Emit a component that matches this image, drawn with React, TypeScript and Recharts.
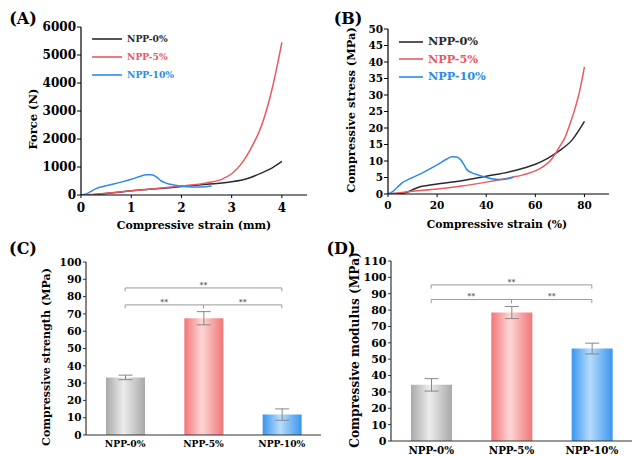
import React from "react";
import {
  Bar,
  BarChart,
  Cell,
  ErrorBar,
  Legend,
  Line,
  LineChart,
  ReferenceLine,
  XAxis,
  YAxis,
} from "recharts";

const FONT = "'DejaVu Serif', 'Liberation Serif', serif";

// (A) force vs compressive strain (mm)
const strainA0 = [0.2, 0.5, 0.8, 1.0, 1.5, 2.0, 2.5, 3.0, 3.3, 3.6, 3.8, 4.0];
const forceA0 = [0, 50, 110, 150, 220, 300, 380, 470, 580, 790, 960, 1200];
const strainA5 = [0.1, 0.5, 1.0, 1.5, 2.0, 2.5, 2.8, 3.0, 3.2, 3.4, 3.6, 3.8, 4.0];
const forceA5 = [0, 60, 150, 230, 320, 430, 560, 760, 1130, 1720, 2500, 3750, 5450];
const strainA10 = [0, 0.1, 0.2, 0.3, 0.5, 0.8, 1.0, 1.2, 1.3, 1.4, 1.5, 1.6, 1.7, 1.85, 2.0, 2.2, 2.4, 2.6];
const forceA10 = [0, 40, 130, 230, 330, 460, 560, 680, 720, 720, 650, 500, 420, 360, 310, 290, 290, 320];

// (B) compressive stress vs strain (%)
const strainB0 = [3, 8, 10, 13, 16, 20, 30, 40, 50, 55, 60, 65, 70, 75, 80];
const stressB0 = [0, 0.6, 1.3, 2.2, 2.6, 3.0, 4.0, 5.4, 6.8, 7.8, 9.0, 10.8, 13.2, 16.4, 22];
const strainB5 = [0, 5, 10, 20, 30, 40, 50, 55, 60, 63, 66, 68, 70, 72, 74, 76, 78, 80];
const stressB5 = [0, 0.4, 0.8, 1.5, 2.4, 3.6, 5.0, 5.8, 7.0, 8.2, 10, 12, 14.5, 17, 21, 25.5, 31, 38.5];
const strainB10 = [0, 2, 4, 6, 8, 10, 15, 20, 24, 26, 28, 30, 31, 32, 34, 37, 40, 45, 48, 51];
const stressB10 = [0, 0.8, 2.2, 3.5, 4.3, 5.0, 6.8, 8.8, 10.6, 11.3, 11.2, 10.0, 8.8, 7.5, 6.5, 5.7, 5.0, 4.4, 4.5, 5.1];

// (C), (D) bars
const groups = ["NPP-0%", "NPP-5%", "NPP-10%"];
const strengthC = [33.3, 67.5, 11.8];
const strengthErrC = [1.3, 3.8, 3.3];
const modulusD = [34.3, 78.5, 56.5];
const modulusErrD = [3.8, 3.7, 3.3];

// ticks
const ticksAx = [0, 1, 2, 3, 4];
const minorAx = [0.5, 1.5, 2.5, 3.5];
const ticksAy = [0, 1000, 2000, 3000, 4000, 5000, 6000];
const minorAy = [500, 1500, 2500, 3500, 4500, 5500];
const ticksBx = [0, 20, 40, 60, 80];
const minorBx = [10, 30, 50, 70];
const ticksBy = [0, 5, 10, 15, 20, 25, 30, 35, 40, 45, 50];
const minorBy = [2.5, 7.5, 12.5, 17.5, 22.5, 27.5, 32.5, 37.5, 42.5, 47.5];
const ticksCy = [0, 10, 20, 30, 40, 50, 60, 70, 80, 90, 100];
const minorCy = [5, 15, 25, 35, 45, 55, 65, 75, 85, 95];
const ticksDy = [0, 10, 20, 30, 40, 50, 60, 70, 80, 90, 100, 110];
const minorDy = [5, 15, 25, 35, 45, 55, 65, 75, 85, 95, 105];

// significance brackets
const bracketsC = [
  { from: "NPP-0%", to: "NPP-10%", y: 85 },
  { from: "NPP-0%", to: "NPP-5%", y: 75.2 },
  { from: "NPP-5%", to: "NPP-10%", y: 75.2 },
];
const bracketsD = [
  { from: "NPP-0%", to: "NPP-10%", y: 95.4 },
  { from: "NPP-0%", to: "NPP-5%", y: 86.5 },
  { from: "NPP-5%", to: "NPP-10%", y: 86.5 },
];

const BLACK = "#2b2b2b";
const RED = "#e85a5f";
const BLUE = "#2a8ce8";

const toRows = (xs: number[], ys: number[]) => xs.map((x, i) => ({ x, y: ys[i] }));
const barRows = (vals: number[], errs: number[]) =>
  groups.map((name, i) => ({ name, value: vals[i], err: errs[i] }));

const tickStyle = (size: number) => ({
  fill: "#000",
  fontSize: size,
  fontWeight: 700,
  fontFamily: FONT,
});

function Title({ x, y, size, rotate, children }: any) {
  return (
    <div
      style={{
        position: "absolute",
        left: x,
        top: y,
        transform: `translate(-50%, -50%)${rotate ? " rotate(-90deg)" : ""}`,
        fontSize: size,
        fontWeight: 700,
        fontFamily: FONT,
        whiteSpace: "nowrap",
        lineHeight: 1,
        color: "#000",
      }}
    >
      {children}
    </div>
  );
}

const legendContent = (fs: number, lineLen: number, rowH: number) => (props: any) => {
  const items = [...(props.payload || [])].sort(
    (a: any, b: any) => groups.indexOf(a.value) - groups.indexOf(b.value)
  );
  return (
    <div style={{ fontFamily: FONT }}>
      {items.map((item: any) => (
        <div key={item.value} style={{ display: "flex", alignItems: "center", height: rowH }}>
          <svg width={lineLen} height={4}>
            <line x1={0} y1={2} x2={lineLen} y2={2} stroke={item.color} strokeWidth={1.6} />
          </svg>
          <span style={{ marginLeft: 5, fontSize: fs, fontWeight: 700, color: item.color, lineHeight: 1 }}>
            {item.value}
          </span>
        </div>
      ))}
    </div>
  );
};

const bracketLines = (list: any[], drop: number, prefix: string) =>
  list.flatMap((b, i) => [
    <ReferenceLine
      key={`${prefix}h${i}`}
      segment={[{ x: b.from, y: b.y }, { x: b.to, y: b.y }]}
      stroke="#9a9a9a"
      strokeWidth={1}
      label={{ value: "**", position: "top", offset: 0, fontSize: 8, fill: "#333", fontFamily: FONT }}
    />,
    <ReferenceLine
      key={`${prefix}l${i}`}
      segment={[{ x: b.from, y: b.y }, { x: b.from, y: b.y - drop }]}
      stroke="#9a9a9a"
      strokeWidth={1}
    />,
    <ReferenceLine
      key={`${prefix}r${i}`}
      segment={[{ x: b.to, y: b.y }, { x: b.to, y: b.y - drop }]}
      stroke="#9a9a9a"
      strokeWidth={1}
    />,
  ]);

const gradients = [
  { id: "gGray", edge: "#a9a9a9", mid: "#ececec" },
  { id: "gRed", edge: "#f27677", mid: "#fdd6d6" },
  { id: "gBlue", edge: "#3a95ef", mid: "#b7dcfc" },
];

function GradDefs({ suffix }: { suffix: string }) {
  return (
    <defs>
      {gradients.map((g) => (
        <linearGradient key={g.id} id={g.id + suffix} x1="0" y1="0" x2="1" y2="0">
          <stop offset="0%" stopColor={g.edge} />
          <stop offset="45%" stopColor={g.mid} />
          <stop offset="100%" stopColor={g.edge} />
        </linearGradient>
      ))}
    </defs>
  );
}

function LinePanel({ width, height, margin, yWidth, xHeight, xDomain, yDomain, xt, xm, yt, ym, tickFs, series, legend }: any) {
  return (
    <LineChart width={width} height={height} margin={margin}>
      <XAxis xAxisId="minor" type="number" domain={xDomain} allowDataOverflow ticks={xm} interval={0}
        tickFormatter={() => ""} tickSize={2} height={0} axisLine={false} stroke="#000" />
      <XAxis type="number" dataKey="x" domain={xDomain} allowDataOverflow ticks={xt} interval={0}
        height={xHeight} tickSize={3} tickMargin={5} tick={tickStyle(tickFs)} stroke="#000"
        axisLine={{ stroke: "#000", strokeWidth: 1.2 }} />
      <XAxis xAxisId="top" orientation="top" type="number" domain={xDomain} height={0} tick={false}
        tickLine={false} axisLine={{ stroke: "#000", strokeWidth: 1.2 }} />
      <YAxis yAxisId="minor" type="number" domain={yDomain} allowDataOverflow ticks={ym} interval={0}
        tickFormatter={() => ""} tickSize={2} width={0} axisLine={false} stroke="#000" />
      <YAxis type="number" domain={yDomain} allowDataOverflow ticks={yt} interval={0} width={yWidth}
        tickSize={4} tickMargin={1} tick={tickStyle(tickFs)} stroke="#000"
        axisLine={{ stroke: "#000", strokeWidth: 1.2 }} />
      <YAxis yAxisId="right" orientation="right" type="number" domain={yDomain} width={0} tick={false}
        tickLine={false} axisLine={{ stroke: "#000", strokeWidth: 1.2 }} />
      <Legend layout="vertical" align="center" verticalAlign="middle"
        wrapperStyle={{ left: legend.left, top: legend.top, width: "auto", height: "auto" }}
        content={legendContent(legend.fs, legend.len, legend.rowH)} />
      {series.map((s: any) => (
        <Line key={s.name} data={s.data} dataKey="y" name={s.name} type="monotone" stroke={s.color}
          strokeWidth={1.5} dot={false} isAnimationActive={false} />
      ))}
    </LineChart>
  );
}

function BarPanel({ width, height, margin, yWidth, xHeight, yMax, yt, ym, tickFs, catFs, rows, brackets, drop, suffix, catMargin, barSize }: any) {
  return (
    <BarChart width={width} height={height} data={rows} margin={margin}>
      <GradDefs suffix={suffix} />
      <XAxis dataKey="name" height={xHeight} tickLine={false} tickSize={0} tickMargin={catMargin}
        tick={tickStyle(catFs)} axisLine={{ stroke: "#333", strokeWidth: 1.2 }} interval={0} />
      <XAxis xAxisId="top" dataKey="name" orientation="top" height={0} tick={false} tickLine={false}
        axisLine={{ stroke: "#777", strokeWidth: 1.2 }} />
      <YAxis yAxisId="minor" type="number" domain={[0, yMax]} ticks={ym} interval={0}
        tickFormatter={() => ""} tickSize={2} width={0} axisLine={false} stroke="#333" />
      <YAxis type="number" domain={[0, yMax]} ticks={yt} interval={0} width={yWidth} tickSize={3}
        tickMargin={1.5} tick={tickStyle(tickFs)} stroke="#333" axisLine={{ stroke: "#333", strokeWidth: 1.2 }} />
      <YAxis yAxisId="right" orientation="right" type="number" domain={[0, yMax]} width={0} tick={false}
        tickLine={false} axisLine={{ stroke: "#777", strokeWidth: 1.2 }} />
      <Bar dataKey="value" barSize={barSize} isAnimationActive={false}>
        {rows.map((r: any, i: number) => (
          <Cell key={r.name} fill={`url(#${gradients[i].id}${suffix})`} />
        ))}
        <ErrorBar dataKey="err" width={7} stroke="#888" strokeWidth={1} />
      </Bar>
      {bracketLines(brackets, drop, suffix)}
    </BarChart>
  );
}

export default function App() {
  const seriesA = [
    { name: "NPP-0%", color: BLACK, data: toRows(strainA0, forceA0) },
    { name: "NPP-5%", color: RED, data: toRows(strainA5, forceA5) },
    { name: "NPP-10%", color: BLUE, data: toRows(strainA10, forceA10) },
  ];
  const seriesB = [
    { name: "NPP-0%", color: BLACK, data: toRows(strainB0, stressB0) },
    { name: "NPP-5%", color: RED, data: toRows(strainB5, stressB5) },
    { name: "NPP-10%", color: BLUE, data: toRows(strainB10, stressB10) },
  ];

  return (
    <div style={{ position: "absolute", left: 0, top: 0, width: 633, height: 456, background: "#fff", overflow: "hidden", fontFamily: FONT }}>
      <div style={{ position: "absolute", left: 0, top: 0 }}>
        <LinePanel width={320} height={225} margin={{ top: 27, right: 13, left: 0, bottom: 0 }}
          yWidth={81} xHeight={30} xDomain={[0, 4.5]} yDomain={[0, 6000]}
          xt={ticksAx} xm={minorAx} yt={ticksAy} ym={minorAy} tickFs={12} series={seriesA}
          legend={{ left: 92, top: 30, fs: 9.2, len: 30, rowH: 18 }} />
      </div>
      <div style={{ position: "absolute", left: 320, top: 0 }}>
        <LinePanel width={313} height={225} margin={{ top: 29, right: 24, left: 0, bottom: 0 }}
          yWidth={68} xHeight={31} xDomain={[0, 90]} yDomain={[0, 50]}
          xt={ticksBx} xm={minorBx} yt={ticksBy} ym={minorBy} tickFs={10.5} series={seriesB}
          legend={{ left: 79, top: 33, fs: 11.3, len: 24, rowH: 17.5 }} />
      </div>
      <div style={{ position: "absolute", left: 0, top: 225 }}>
        <BarPanel width={322} height={231} margin={{ top: 37, right: 1, left: 0, bottom: 0 }}
          yWidth={86} xHeight={21} yMax={100} yt={ticksCy} ym={minorCy} tickFs={10.5} catFs={9.2}
          rows={barRows(strengthC, strengthErrC)} brackets={bracketsC} drop={2} suffix="C"
          catMargin={5} barSize={39} />
      </div>
      <div style={{ position: "absolute", left: 320, top: 225 }}>
        <BarPanel width={313} height={231} margin={{ top: 36, right: 1, left: 0, bottom: 0 }}
          yWidth={71} xHeight={15} yMax={110} yt={ticksDy} ym={minorDy} tickFs={11} catFs={10.3}
          rows={barRows(modulusD, modulusErrD)} brackets={bracketsD} drop={2.3} suffix="D"
          catMargin={6} barSize={41} />
      </div>

      <Title x={23} y={19} size={16}>(A)</Title>
      <Title x={34} y={119} size={11.5} rotate>Force (N)</Title>
      <Title x={194} y={226} size={10.9}>Compressive strain (mm)</Title>

      <Title x={348} y={19} size={16}>(B)</Title>
      <Title x={352} y={110} size={11.4} rotate>Compressive stress (MPa)</Title>
      <Title x={497} y={225} size={10.8}>Compressive strain (%)</Title>

      <Title x={23} y={249} size={16}>(C)</Title>
      <Title x={47} y={357} size={11.1} rotate>Compressive strength (MPa)</Title>

      <Title x={341} y={249} size={16}>(D)</Title>
      <Title x={355} y={350} size={12.2} rotate>Compressive modulus (MPa)</Title>
    </div>
  );
}
